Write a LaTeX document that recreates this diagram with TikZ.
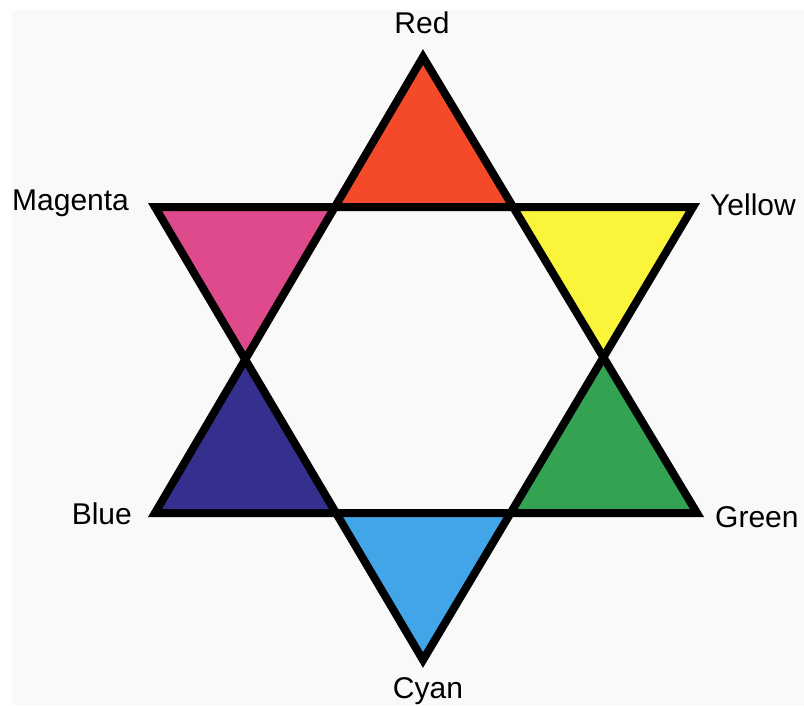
\documentclass[tikz,border=0pt]{standalone}
\usepackage{fontspec}
\setmainfont{Liberation Sans}
\definecolor{cRed}{RGB}{244,74,42}
\definecolor{cMag}{RGB}{222,74,140}
\definecolor{cYel}{RGB}{250,245,58}
\definecolor{cBlu}{RGB}{53,48,142}
\definecolor{cGrn}{RGB}{51,163,82}
\definecolor{cCya}{RGB}{66,165,232}
\definecolor{bg}{RGB}{249,249,249}
\begin{document}
\begin{tikzpicture}[x=1pt,y=-1pt,
  lbl/.style={font=\fontsize{30}{31}\selectfont, inner sep=0pt},
  star/.style={line width=8pt, line join=miter, draw=black}]
\useasboundingbox (0,0) rectangle (804,705);
\fill[white] (0,0) rectangle (804,705);
\fill[bg] (12,10) rectangle (804,705);
\coordinate (R) at (423,57);
\coordinate (B) at (155,513);
\coordinate (G) at (697,513);
\coordinate (M) at (155,207);
\coordinate (Y) at (693,207);
\coordinate (C) at (423,660);
\coordinate (h1) at (intersection of R--B and M--Y);
\coordinate (h2) at (intersection of R--G and M--Y);
\coordinate (h3) at (intersection of R--G and Y--C);
\coordinate (h4) at (intersection of B--G and Y--C);
\coordinate (h5) at (intersection of B--G and M--C);
\coordinate (h6) at (intersection of R--B and M--C);
\fill[cRed] (R) -- (h1) -- (h2) -- cycle;
\fill[cYel] (Y) -- (h2) -- (h3) -- cycle;
\fill[cGrn] (G) -- (h3) -- (h4) -- cycle;
\fill[cCya] (C) -- (h4) -- (h5) -- cycle;
\fill[cBlu] (B) -- (h5) -- (h6) -- cycle;
\fill[cMag] (M) -- (h6) -- (h1) -- cycle;
\draw[star] (R) -- (B) -- (G) -- cycle;
\draw[star] (M) -- (Y) -- (C) -- cycle;
\node[lbl, anchor=base] (tR) at (422,33) {Red};
\node[lbl, anchor=base west] (tM) at (12,210) {Magenta};
\node[lbl, anchor=base west] (tY) at (710,215) {Yellow};
\node[lbl, anchor=base east] (tB) at (132,524) {Blue};
\node[lbl, anchor=base west] (tG) at (715,527) {Green};
\node[lbl, anchor=base] (tC) at (428,698) {Cyan};
\end{tikzpicture}
\end{document}
